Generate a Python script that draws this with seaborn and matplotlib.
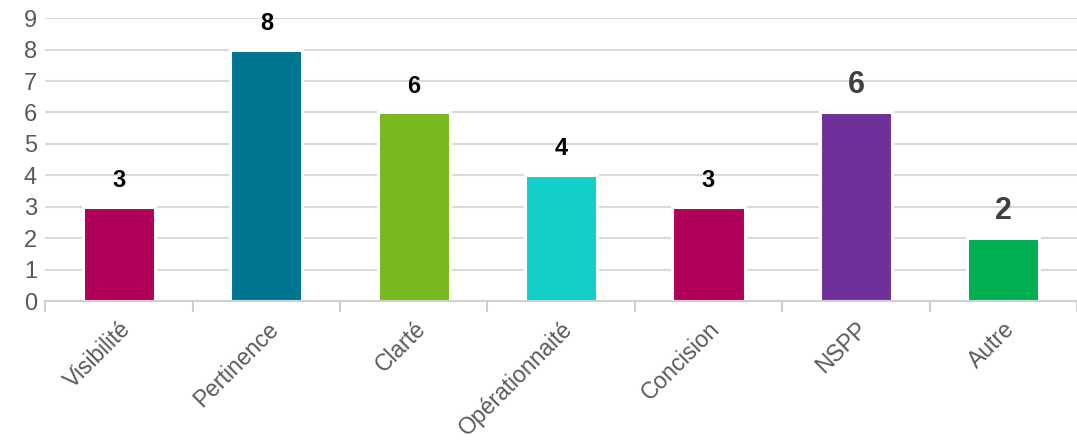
import matplotlib
matplotlib.use("Agg")
import matplotlib.pyplot as plt
import numpy as np
import pandas as pd
import seaborn as sns

# donnees
categories = ['Visibilité', 'Pertinence', 'Clarté', 'Opérationnaité', 'Concision', 'NSPP', 'Autre']
valeurs = [3, 8, 6, 4, 3, 6, 2]
couleurs = ['#B0005A', '#00758F', '#78B91F', '#12CFC8', '#B0005A', '#70309A', '#00AF50']

df = pd.DataFrame({'cat': categories, 'val': valeurs})

sns.set_theme(style='white')
plt.rcParams['font.family'] = ['Liberation Sans', 'DejaVu Sans']

fig = plt.figure(figsize=(10.77, 4.44), dpi=100)
ax = fig.add_axes([0.042, 0.322, 0.958, 0.637])

ax.set_axisbelow(True)
ax.yaxis.grid(True, color='#d9d9d9', linewidth=1.5)
sns.barplot(data=df, x='cat', y='val', hue='cat', palette=couleurs, legend=False,
            width=0.49, edgecolor='white', linewidth=2.2, saturation=1, ax=ax)

ax.set_ylim(0, 9)
ax.set_xlim(-0.5, len(categories) - 0.5)
ax.set_yticks(range(0, 10))
ax.set_xlabel('')
ax.set_ylabel('')

# etiquettes de valeurs
for i, v in enumerate(valeurs):
    if categories[i] in ('NSPP', 'Autre'):
        ax.text(i, v + 0.88, str(v), ha='center', va='center', fontsize=22,
                fontweight='bold', color='#404040')
    else:
        ax.text(i, v + 0.84, str(v), ha='center', va='center', fontsize=17,
                fontweight='bold', color='black')

for s in ['top', 'right', 'left']:
    ax.spines[s].set_visible(False)
ax.spines['bottom'].set_color('#d0d0d0')
ax.spines['bottom'].set_linewidth(1.5)

ax.tick_params(axis='y', length=0, labelsize=17, labelcolor='#595959', pad=6)
ax.tick_params(axis='x', which='major', bottom=False, length=0, labelsize=16.5,
               labelcolor='#595959', pad=12)
ax.set_xticks(np.arange(-0.5, len(categories), 1.0), minor=True)
ax.tick_params(axis='x', which='minor', bottom=True, length=8, width=1.5,
               color='#d0d0d0', direction='out')
plt.setp(ax.get_xticklabels(), rotation=45, ha='right', rotation_mode='anchor')

fig.savefig('out.png', dpi=100)
